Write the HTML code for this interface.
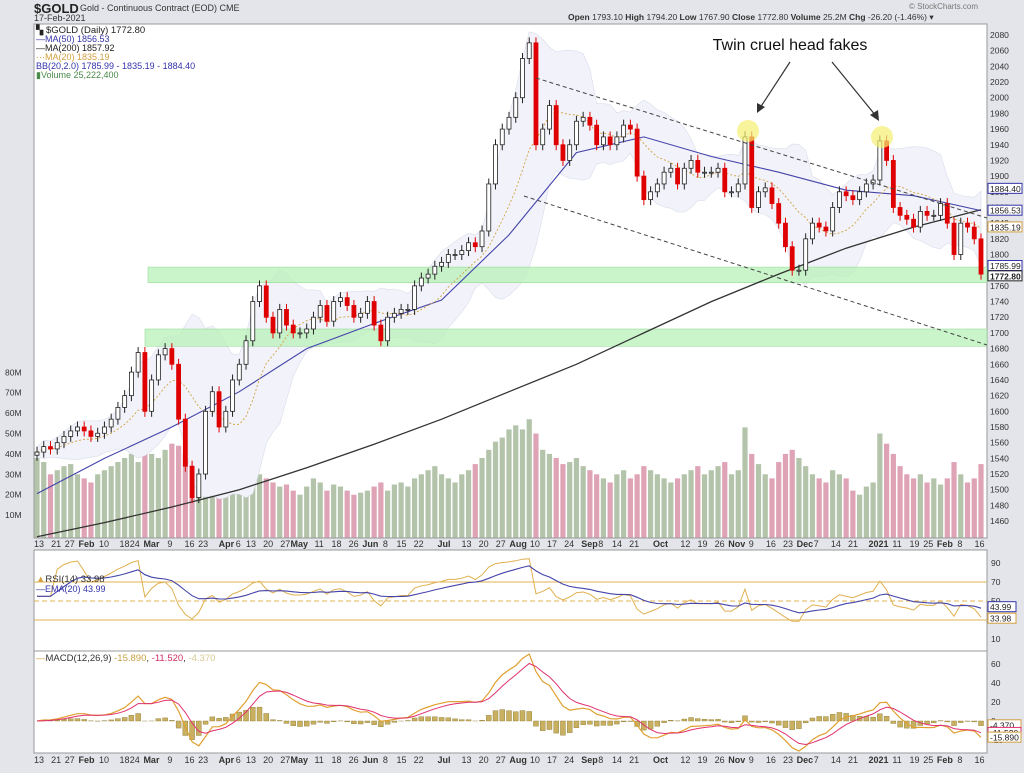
<!DOCTYPE html>
<html><head><meta charset="utf-8"><style>
body{margin:0;width:1024px;height:768px;background:#e3e5ea;font-family:"Liberation Sans",sans-serif;overflow:hidden}
svg text{font-family:"Liberation Sans",sans-serif}
</style></head><body>
<svg id="c" width="1024" height="768" xmlns="http://www.w3.org/2000/svg">
<rect x="0" y="0" width="1024" height="768" fill="#e3e5ea"/>
<text x="34" y="13" font-size="13" font-weight="bold" fill="#222">$GOLD</text>
<text x="80" y="11" font-size="9" fill="#333">Gold - Continuous Contract (EOD) CME</text>
<text x="34" y="21" font-size="9" fill="#333">17-Feb-2021</text>
<text x="978" y="9" font-size="8" fill="#777" text-anchor="end">© StockCharts.com</text>
<text x="568" y="20" font-size="8.5" fill="#333"><tspan font-weight="bold">Open</tspan> 1793.10 <tspan font-weight="bold">High</tspan> 1794.20 <tspan font-weight="bold">Low</tspan> 1767.90 <tspan font-weight="bold">Close</tspan> 1772.80 <tspan font-weight="bold">Volume</tspan> 25.2M <tspan font-weight="bold">Chg</tspan> -26.20 (-1.46%) ▾</text>
<rect x="34" y="24" width="953" height="514" fill="#fff" stroke="#999"/>
<rect x="34" y="550" width="953" height="101" fill="#fff" stroke="#999"/>
<rect x="34" y="651" width="953" height="102" fill="#fff" stroke="#999"/>
<g id="gVol"></g><g id="gBB"></g><g id="gBands"></g><g id="gLines"></g><g id="gCandles"></g><g id="gAnn"></g><g id="gAxis"></g><g id="gRsi"></g><g id="gMacd"></g>
<g font-size="9">
<text x="36" y="33" font-size="9.5" fill="#222">▚ $GOLD (Daily) 1772.80</text>
<text x="36" y="42" fill="#3333aa">—MA(50) 1856.53</text>
<text x="36" y="51" fill="#222">—MA(200) 1857.92</text>
<text x="36" y="60" fill="#d4a040">···MA(20) 1835.19</text>
<text x="36" y="69" fill="#3333aa">BB(20,2.0) 1785.99 - 1835.19 - 1884.40</text>
<text x="36" y="78" fill="#4a8a4a">▮Volume 25,222,400</text>
<text x="36" y="582" font-size="9.5" fill="#333"><tspan fill="#d4a040">▲</tspan>RSI(14) 33.98</text>
<text x="36" y="592" fill="#3333aa">—EMA(20) 43.99</text>
<text x="36" y="661" font-size="9.5" fill="#333"><tspan fill="#d4a040">—</tspan>MACD(12,26,9) <tspan fill="#c8a040">-15.890</tspan>, <tspan fill="#d03060">-11.520</tspan>, <tspan fill="#d8c890">-4.370</tspan></text>
</g>
</svg>
<script>
const closes=[1548,1555,1552,1560,1568,1575,1580,
1575,1568,1572,1580,1590,1605,1620,1650,1675,1600,
1640,1672,1680,1660,1590,1530,1490,1520,1600,1625,1580,
1600,1640,1660,1690,1740,1760,1720,1700,1730,1710,1700,
1700,1705,1720,1735,1715,1740,1745,1735,1720,1725,
1740,1710,1690,1720,1725,1730,1730,1760,1770,1775,1785,
1790,1800,1800,1805,1815,1810,1830,1890,1940,1960,1975,
2000,2050,2070,1940,1960,1990,1940,1920,1940,1970,1975,
1965,1940,1950,1940,1950,1965,1960,1900,1870,1880,1890,
1905,1910,1890,1910,1920,1905,1905,1905,1910,1880,1880,
1890,1950,1860,1880,1885,1865,1840,1810,1780,1780,
1820,1840,1835,1830,1860,1880,1875,1870,1880,1890,1895,
1945,1920,1860,1850,1845,1835,1855,1850,1850,1865,
1840,1800,1840,1835,1820,1775];
const volumes=[38,36,30,32,34,35,30,
28,26,30,32,34,36,38,40,36,42,
40,38,42,45,44,40,38,36,34,30,28,
26,30,32,38,36,30,28,26,24,25,22,
20,24,28,26,22,25,24,22,20,21,
22,24,26,22,25,26,24,28,30,32,34,
30,28,26,30,32,35,38,42,46,48,52,
54,52,57,50,42,40,38,35,36,38,34,
32,30,28,26,30,32,28,30,34,32,30,
28,26,28,30,32,34,30,32,34,36,30,
32,53,40,35,30,28,36,40,42,38,
34,30,28,26,32,30,28,22,20,24,26,
50,45,40,34,30,28,30,26,28,25,
28,36,30,26,28,35];
const ma50=[1495,1540,1580,1625,1680,1712,1742,1825,1930,1950,1925,1905,1882,1875,1856];
const ma200=[1440,1458,1478,1500,1528,1558,1590,1625,1660,1700,1740,1775,1808,1835,1857];
const priceTicks=[2080,2060,2040,2020,2000,1980,1960,1940,1920,1900,1880,1860,1840,1820,1800,1780,1760,1740,1720,1700,1680,1660,1640,1620,1600,1580,1560,1540,1520,1500,1480,1460];
const volTicks=[10,20,30,40,50,60,70,80];
const dateLabels=["13","21","27","Feb","10","18","24","Mar","9","16","23","Apr","6","13","20","27","May","11","18","26","Jun","8","15","22","Jul","13","20","27","Aug","10","17","24","Sep","8","14","21","Oct","12","19","26","Nov","9","16","23","Dec","7","14","21","2021","11","19","25","Feb","8","16"];
const dateDays=[0,5,9,13,19,25,28,32,39,44,48,54,59,62,67,72,75,82,87,92,96,102,106,111,118,125,130,135,139,145,150,155,160,165,169,174,181,189,194,199,203,209,214,219,223,228,233,238,244,251,256,260,264,270,275];
const rsiTicks=[90,70,50,30,10];
const macdTicks=[60,40,20,0,-20];
const NS="http://www.w3.org/2000/svg";
const X0=37,DX=(981-37)/(closes.length-1);
const xs=i=>X0+i*DX;
const xd=d=>34+d*3.42;
const yp=p=>35+(2080-p)*0.784;
const yv=v=>535.5-v*2.04;
const yr=v=>582+(70-v)*0.95;
const ym=v=>721-v*0.95;
function mk(tag,attrs,parent){const e=document.createElementNS(NS,tag);for(const k in attrs)e.setAttribute(k,attrs[k]);document.getElementById(parent).appendChild(e);return e;}
function txt(s,attrs,parent){const e=mk('text',attrs,parent);e.textContent=s;return e;}
volumes.forEach((v,i)=>{const up=i==0||closes[i]>=closes[i-1];
const r=mk('rect',{x:xs(i)-2.6,y:yv(v),width:5.2,height:537.5-yv(v),fill:up?'#b3c4aa':'#dfa3b6'},'gVol');

});
const ma20=[],bu=[],bl=[];
closes.forEach((c,i)=>{const w=closes.slice(Math.max(0,i-9),i+1);const m=w.reduce((a,b)=>a+b,0)/w.length;const sd=Math.sqrt(w.reduce((a,b)=>a+(b-m)*(b-m),0)/w.length);ma20.push(m);bu.push(m+1.6*sd+6);bl.push(m-1.6*sd-6);});
const pts=(arr,fx,fy)=>arr.map((v,i)=>fx(i).toFixed(1)+','+fy(v).toFixed(1)).join(' ');
let bb=mk('polygon',{points:pts(bu,xs,yp)+' '+bl.map((v,i)=>i).reverse().map(i=>xs(i).toFixed(1)+','+yp(bl[i]).toFixed(1)).join(' '),fill:'#f2f3fa',stroke:'#d8dbea','stroke-width':0.6},'gBB');


[[1784,1764,148],[1705,1683,145]].forEach(b=>{const r=mk('rect',{x:b[2],y:yp(b[0]),width:987-b[2],height:yp(b[1])-yp(b[0]),fill:'#b8f0b8','fill-opacity':0.75,stroke:'#8ad88a','stroke-width':0.5},'gBands');

});
const sx=i=>xs(i*10);
let l=mk('polyline',{points:pts(ma200,sx,yp),fill:'none',stroke:'#333','stroke-width':1.3},'gLines');


l=mk('polyline',{points:pts(ma50,sx,yp),fill:'none',stroke:'#4444aa','stroke-width':1.1},'gLines');


l=mk('polyline',{points:pts(ma20,xs,yp),fill:'none',stroke:'#d4a040','stroke-width':0.9,'stroke-dasharray':'2,2'},'gLines');


closes.forEach((c,i)=>{const o=i==0?c-4:closes[i-1];const hi=Math.max(o,c)+7,lo=Math.min(o,c)-7;const up=c>=o;
const g=mk('g',{},'gCandles');


const w=mk('line',{x1:xs(i),x2:xs(i),y1:yp(hi),y2:yp(lo),stroke:up?'#222':'#d00','stroke-width':1},'gCandles');g.appendChild(w);
const b=mk('rect',{x:xs(i)-2,y:yp(Math.max(o,c)),width:4,height:Math.max(1,Math.abs(yp(o)-yp(c))),fill:up?'#fff':'#e00000',stroke:up?'#222':'#d00','stroke-width':0.8},'gCandles');g.appendChild(b);});
const A=document.getElementById('gAnn');
A.innerHTML=`<line x1="536" y1="78" x2="987" y2="218" stroke="#444" stroke-dasharray="4,3" stroke-width="1"/>
<line x1="524" y1="196" x2="987" y2="345" stroke="#444" stroke-dasharray="4,3" stroke-width="1"/>
<circle cx="748" cy="131" r="11" fill="#f4f070" fill-opacity="0.7"/>
<circle cx="882" cy="137" r="11" fill="#f4f070" fill-opacity="0.7"/>
<text x="790" y="50" font-size="16" text-anchor="middle" fill="#111">Twin cruel head fakes</text>
<line x1="790" y1="62" x2="760" y2="108" stroke="#333" stroke-width="1.2"/>
<polygon points="757,113 757,103 765,107" fill="#333"/>
<line x1="832" y1="62" x2="876" y2="116" stroke="#333" stroke-width="1.2"/>
<polygon points="879,121 870,115 878,110" fill="#333"/>`;
priceTicks.forEach(p=>{const t=txt(String(p),{x:990,y:yp(p)+3,'font-size':8.5,fill:'#333'},'gAxis');

});
volTicks.forEach(v=>{const t=txt(v+'M',{x:5,y:yv(v)+3,'font-size':8.5,fill:'#333'},'gAxis');

});
const tags=[['1884.40',1884.4,'#3333aa'],['1856.53',1856.53,'#3333aa'],['1835.19',1835.19,'#d4a040'],['1785.99',1785.99,'#3333aa'],['1772.80',1772.8,'#222']];
tags.forEach(t=>{const y=yp(t[1]);const r=mk('rect',{x:988,y:y-5,width:34,height:10,fill:'#fff',stroke:t[2],'stroke-width':1},'gAxis');


txt(t[0],{x:990,y:y+3.5,'font-size':8.5,fill:'#222','font-weight':t[0]=='1772.80'?'bold':'normal'},'gAxis');});
[547,763].forEach(yy=>dateLabels.forEach((s,k)=>{const bold=isNaN(+s)||s=='2021';const t=txt(s,{x:xd(dateDays[k]),y:yy,'font-size':9,fill:'#333','font-weight':bold?'bold':'normal'},'gAxis');

}));
// RSI from closes
const N=10;const rsi=[];let ag=0,al=0;closes.forEach((c,i)=>{if(i==0){rsi.push(55);return;}const d=c-closes[i-1];const g=Math.max(d,0),lo=Math.max(-d,0);if(i<=N){ag+=g/N;al+=lo/N;}else{ag=(ag*(N-1)+g)/N;al=(al*(N-1)+lo)/N;}rsi.push(i<3?55:(al==0?75:100-100/(1+ag/al)));});
const rema=[];rsi.forEach((v,i)=>rema.push(i==0?v:rema[i-1]+(v-rema[i-1])*2/11));
[[70,'#e0b050',''],[30,'#e0b050',''],[50,'#e0b050','5,3']].forEach(a=>{const e=mk('line',{x1:34,x2:987,y1:yr(a[0]),y2:yr(a[0]),stroke:a[1],'stroke-width':1,'stroke-dasharray':a[2]},'gRsi');

});
l=mk('polyline',{points:pts(rsi,xs,yr),fill:'none',stroke:'#e0b050','stroke-width':1},'gRsi');


l=mk('polyline',{points:pts(rema,xs,yr),fill:'none',stroke:'#4444aa','stroke-width':1.1},'gRsi');


rsiTicks.forEach(v=>{const t=txt(String(v),{x:991,y:yr(v)+3,'font-size':8.5,fill:'#333'},'gRsi');

});
[['43.99',yr(44),'#3333aa'],['33.98',yr(34)+2,'#d4a040']].forEach(t=>{mk('rect',{x:988,y:t[1]-5,width:28,height:10,fill:'#fff',stroke:t[2]},'gRsi');txt(t[0],{x:990,y:t[1]+3.5,'font-size':8.5,fill:'#222'},'gRsi');});
// MACD from closes
const ema=(arr,n)=>{const k=2/(n+1),o=[];arr.forEach((v,i)=>o.push(i==0?v:o[i-1]+(v-o[i-1])*k));return o;};
const e1=ema(closes,6),e2=ema(closes,13);const macd=closes.map((c,i)=>e1[i]-e2[i]);const sig=ema(macd,4.5);
macd.forEach((m,i)=>{const h=m-sig[i];const r=mk('rect',{x:xs(i)-2.5,y:Math.min(ym(0),ym(h)),width:5,height:Math.abs(ym(h)-ym(0)),fill:'#c8b060',stroke:'#8a7830','stroke-width':0.4},'gMacd');

});
l=mk('polyline',{points:pts(macd,xs,ym),fill:'none',stroke:'#e0a030','stroke-width':1.2},'gMacd');


l=mk('polyline',{points:pts(sig,xs,ym),fill:'none',stroke:'#e03070','stroke-width':1},'gMacd');


macdTicks.forEach(v=>{const t=txt(String(v),{x:991,y:ym(v)+3,'font-size':8.5,fill:'#333'},'gMacd');

});
[['-4.370',ym(-4),'#d4a040'],['-11.520',ym(-12),'#e03070'],['-15.890',ym(-17),'#d4a040']].forEach(t=>{mk('rect',{x:988,y:t[1]-5,width:33,height:10,fill:'#fff',stroke:t[2]},'gMacd');txt(t[0],{x:990,y:t[1]+3.5,'font-size':8.5,fill:'#222'},'gMacd');});
</script>
</body></html>
